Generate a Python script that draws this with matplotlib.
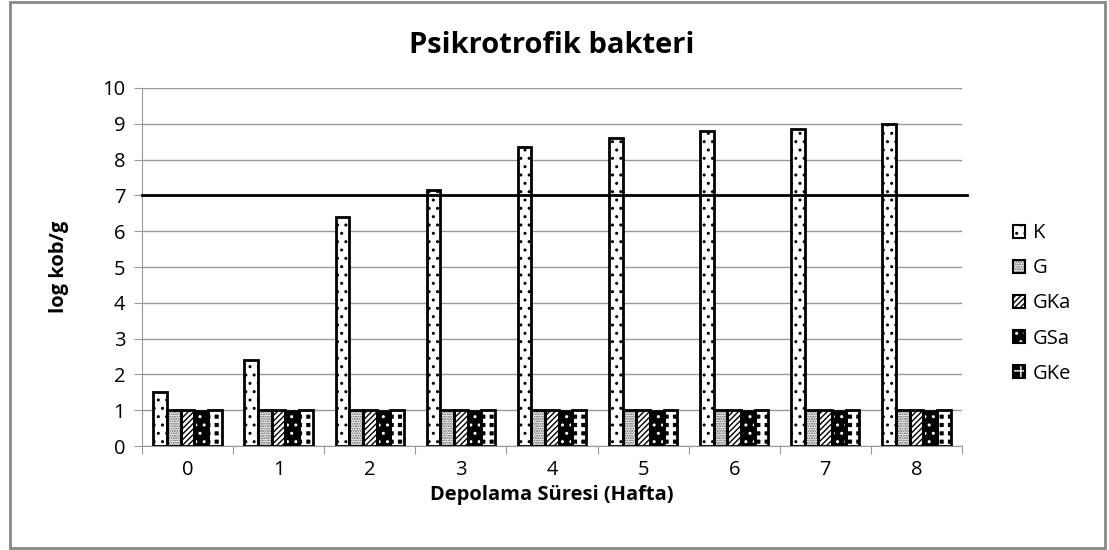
import numpy as np
import matplotlib
matplotlib.use("Agg")
import matplotlib.pyplot as plt
from matplotlib.patches import Rectangle

weeks = [0, 1, 2, 3, 4, 5, 6, 7, 8]
series = ["K", "G", "GKa", "GSa", "GKe"]
K = [1.5, 2.4, 6.4, 7.15, 8.35, 8.6, 8.8, 8.85, 9.0]
G = [1.0, 1.0, 1.0, 1.0, 1.0, 1.0, 1.0, 1.0, 1.0]
GKa = [1.0, 1.0, 1.0, 1.0, 1.0, 1.0, 1.0, 1.0, 1.0]
GSa = [0.98, 0.98, 0.98, 0.98, 0.98, 0.98, 0.98, 0.98, 0.98]
GKe = [1.0, 1.0, 1.0, 1.0, 1.0, 1.0, 1.0, 1.0, 1.0]
limit = 7.0

plt.rcParams["font.family"] = ["Open Sans", "DejaVu Sans"]
plt.rcParams["hatch.linewidth"] = 1.0

fig = plt.figure(figsize=(11.09, 5.5), dpi=100)
fig.patches.append(Rectangle((0.009, 0.004), 0.987, 0.993, transform=fig.transFigure,
                             fill=False, edgecolor="#888888", linewidth=2))
ax = fig.add_axes([0.128, 0.189, 0.7394, 0.651])

x = np.arange(len(weeks))
w = 0.15
offs = (np.arange(5) - 2) * w
# (face, hatch colour, hatch, hatch linewidth)
styles = [("white", "black", "..", 1.0),
          ("white", "#555555", ".......", 1.0),
          ("white", "black", "//////", 1.0),
          ("black", "white", "..", 1.0),
          ("black", "white", "++", 3.0)]
data = [K, G, GKa, GSa, GKe]
handles = []
for vals, off, (fc, hc, h, hlw), name in zip(data, offs, styles, series):
    with plt.rc_context({"hatch.linewidth": hlw}):
        ax.bar(x + off, vals, w, color=fc, edgecolor=hc, hatch=h, linewidth=0, zorder=3)
        fill = Rectangle((0, 0), 1, 1, facecolor=fc, edgecolor=hc, hatch=h, linewidth=0)
    ax.bar(x + off, vals, w, fill=False, edgecolor="black", linewidth=2, zorder=4)
    outline = Rectangle((0, 0), 1, 1, fill=False, edgecolor="black", linewidth=1.5)
    handles.append((fill, outline))

ax.axhline(limit, xmin=0, xmax=1.006, color="black", linewidth=2, clip_on=False, zorder=5)

ax.set_xlim(-0.5, len(weeks) - 0.5)
ax.set_ylim(0, 10)
ax.set_yticks(range(0, 11))
ax.yaxis.grid(True, color="#999999", linewidth=1)
ax.set_axisbelow(True)
ax.set_xticks(np.arange(-0.5, len(weeks)), [""] * (len(weeks) + 1))
ax.set_xticks(x, [str(v) for v in weeks], minor=True)
ax.tick_params(axis="x", which="major", length=6, color="#999999")
ax.tick_params(axis="x", which="minor", length=0, labelsize=14.5, pad=10)
ax.tick_params(axis="y", length=6, color="#999999", labelsize=14.5, pad=6)
for s in ["top", "right"]:
    ax.spines[s].set_visible(False)
for s in ["left", "bottom"]:
    ax.spines[s].set_color("#999999")

ax.set_title("Psikrotrofik bakteri", fontsize=21, fontweight="bold", pad=25)
ax.set_xlabel("Depolama Süresi (Hafta)", fontsize=14.5, fontweight="bold", labelpad=4)
ax.set_ylabel("log kob/g", fontsize=14.5, fontweight="bold", labelpad=24)

fig.legend(handles, series, loc="upper left", bbox_to_anchor=(0.897, 0.627),
           frameon=False, fontsize=14.5, handlelength=0.6, handleheight=0.6,
           handletextpad=0.4, labelspacing=0.75)

fig.savefig("out.png", dpi=100)
